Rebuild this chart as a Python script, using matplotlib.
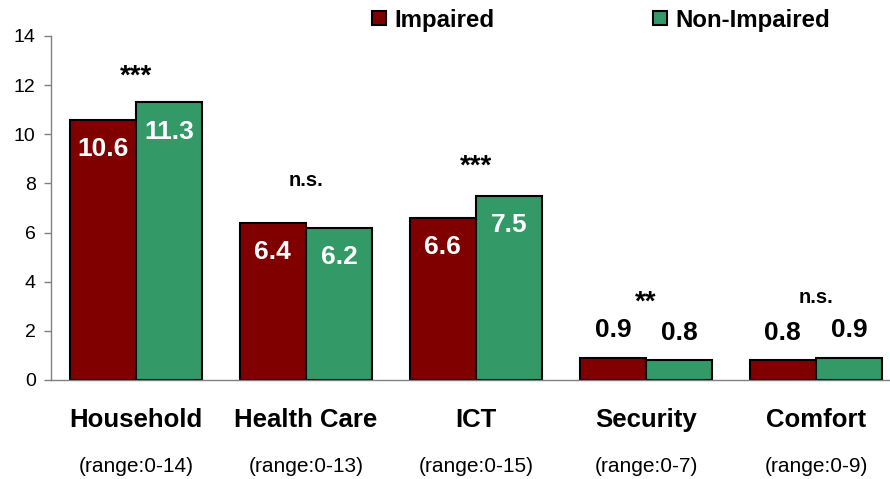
import matplotlib.pyplot as plt
from matplotlib.patches import Patch
from matplotlib.transforms import blended_transform_factory

plt.rcParams['font.family'] = ['Liberation Sans', 'DejaVu Sans']

# mean number of devices used, by category
categories = ['Household', 'Health Care', 'ICT', 'Security', 'Comfort']
ranges = ['(range:0-14)', '(range:0-13)', '(range:0-15)', '(range:0-7)', '(range:0-9)']
impaired = [10.6, 6.4, 6.6, 0.9, 0.8]
non_impaired = [11.3, 6.2, 7.5, 0.8, 0.9]
significance = ['***', 'n.s.', '***', '**', 'n.s.']
sig_height = [12.6, 8.1, 8.95, 3.4, 3.35]

red = '#800000'
green = '#339966'

fig = plt.figure(figsize=(8.9, 4.79), dpi=100)
ax = fig.add_axes([51 / 890, 1 - 380 / 479, 850 / 890, 344 / 479])

x = list(range(len(categories)))
w = 0.39
b1 = ax.bar([i - w for i in x], impaired, width=w, align='edge',
            color=red, edgecolor='black', linewidth=1.5)
b2 = ax.bar(x, non_impaired, width=w, align='edge',
            color=green, edgecolor='black', linewidth=1.5)

# value labels: white inside tall bars, black above short ones
for bars, vals in ((b1, impaired), (b2, non_impaired)):
    for bar, v in zip(bars, vals):
        cx = bar.get_x() + bar.get_width() / 2
        if v > 2:
            ax.annotate(f'{v:.1f}', (cx, v), xytext=(0, -21), textcoords='offset points',
                        ha='center', va='center', color='white',
                        fontsize=19, fontweight='bold')
        else:
            ax.annotate(f'{v:.1f}', (cx, v), xytext=(0, 20), textcoords='offset points',
                        ha='center', va='center', color='black',
                        fontsize=19, fontweight='bold')

for i, s in enumerate(significance):
    if '*' in s:
        ax.text(i, sig_height[i] - 0.25, s, ha='center', va='center',
                fontsize=20, fontweight='bold')
    else:
        ax.text(i, sig_height[i], s, ha='center', va='center',
                fontsize=14.5, fontweight='bold')

# category names and ranges under the axis
tr = blended_transform_factory(ax.transData, ax.transAxes)
for i, (c, r) in enumerate(zip(categories, ranges)):
    ax.annotate(c, (i, 0), xycoords=tr, xytext=(0, -29), textcoords='offset points',
                ha='center', va='center', fontsize=18.5, fontweight='bold')
    ax.annotate(r, (i, 0), xycoords=tr, xytext=(0, -62), textcoords='offset points',
                ha='center', va='center', fontsize=15)

ax.set_xlim(-0.5, 4.5)
ax.set_ylim(0, 14)
ax.set_yticks(range(0, 15, 2))
ax.set_xticks([])
ax.tick_params(axis='y', labelsize=14, length=5, width=1, color='#808080', pad=6)
for side in ('top', 'right'):
    ax.spines[side].set_visible(False)
for side in ('left', 'bottom'):
    ax.spines[side].set_color('#808080')
    ax.spines[side].set_linewidth(1)

handles = [Patch(facecolor=red, edgecolor='black', linewidth=1.5),
           Patch(facecolor=green, edgecolor='black', linewidth=1.5)]
fig.legend(handles, ['Impaired', 'Non-Impaired'], loc='center left',
           bbox_to_anchor=(372 / 890, 1 - 20 / 479), ncol=2, frameon=False,
           borderpad=0, borderaxespad=0, handlelength=0.58, handleheight=0.58,
           handletextpad=0.35, columnspacing=6.6,
           prop={'size': 17.3, 'weight': 'bold'})

fig.savefig('out.png', dpi=100)
